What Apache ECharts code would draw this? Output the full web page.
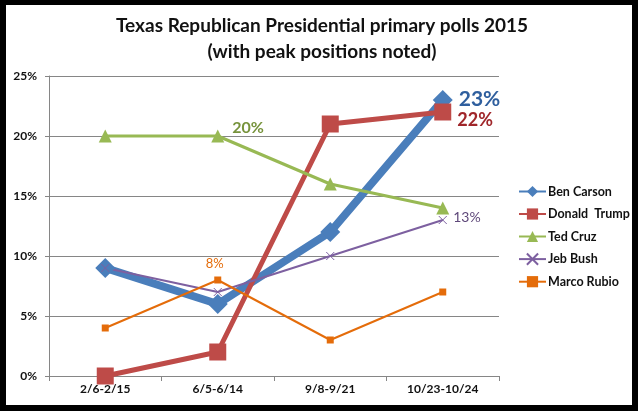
<!DOCTYPE html>
<html>
<head>
<meta charset="utf-8">
<script src="https://cdn.jsdelivr.net/npm/echarts@6/dist/echarts.min.js"></script>
<style>
  html, body { margin: 0; padding: 0; background: #fff; }
  #main { width: 640px; height: 416px; }
</style>
</head>
<body>
<div id="main"></div>
<script>
// poll dates and results (percent)
var periods = ['2/6-2/15', '6/5-6/14', '9/8-9/21', '10/23-10/24'];
var carson = [9, 6, 12, 23];
var trump = [0, 2, 21, 22];
var cruz = [20, 20, 16, 14];
var bush = [9, 7, 10, 13];
var rubio = [4, 8, 3, 7];
var yTicks = [0, 5, 10, 15, 20, 25];

var fontName = 'Lato, "Open Sans", sans-serif';

// label only one point of a series (its peak)
function peakLabel(arr, idx, opts) {
  return arr.map(function (v, i) {
    if (i !== idx) return v;
    return { value: v, label: Object.assign({ show: true, formatter: v + '%' }, opts) };
  });
}

var chart = echarts.init(document.getElementById('main'));

var option = {
  animation: false,
  title: {
    text: 'Texas Republican Presidential primary polls 2015\n(with peak positions noted)',
    left: 317,
    top: 8,
    textAlign: 'center',
    textStyle: { fontFamily: fontName, fontSize: 19, fontWeight: 'bold', color: '#111', lineHeight: 26 }
  },
  graphic: [{
    type: 'rect',
    shape: { x: 3, y: 2, width: 632, height: 406 },
    style: { fill: 'none', stroke: '#000', lineWidth: 6 },
    z: 100
  }],
  legend: {
    orient: 'vertical',
    left: 513,
    top: 180,
    itemGap: 9.5,
    itemWidth: 27,
    itemHeight: 14,
    textStyle: { fontFamily: fontName, fontSize: 12.5, fontWeight: 'bold', color: '#111', padding: [0, 0, 0, -3] },
    data: ['Ben Carson', 'Donald  Trump', 'Ted Cruz', 'Jeb Bush', 'Marco Rubio']
  },
  grid: { left: 49, right: 141, top: 76, bottom: 40 },
  xAxis: {
    type: 'category',
    data: periods,
    axisLine: { lineStyle: { color: '#868686' } },
    axisTick: { show: true, length: 5, lineStyle: { color: '#868686' } },
    axisLabel: { fontFamily: fontName, fontSize: 12, fontWeight: 'bold', color: '#111', margin: 7 }
  },
  yAxis: {
    type: 'value',
    min: yTicks[0],
    max: yTicks[yTicks.length - 1],
    interval: 5,
    axisLine: { show: true, lineStyle: { color: '#868686' } },
    axisTick: { show: true, length: 4, lineStyle: { color: '#868686' } },
    splitLine: { lineStyle: { color: '#868686' } },
    axisLabel: { fontFamily: fontName, fontSize: 12, fontWeight: 'bold', color: '#111', margin: 12, formatter: '{value}%' }
  },
  series: [
    {
      name: 'Ben Carson', type: 'line',
      data: peakLabel(carson, 3, { position: 'right', distance: 6, offset: [0, -1], fontFamily: fontName, fontSize: 21, fontWeight: 'bold', color: '#2F5F9E' }),
      symbol: 'diamond', symbolSize: 20,
      lineStyle: { width: 8, color: '#4A7EBB' },
      itemStyle: { color: '#4A7EBB' }
    },
    {
      name: 'Donald  Trump', type: 'line',
      data: peakLabel(trump, 3, { position: 'right', distance: 6, offset: [0, 8], fontFamily: fontName, fontSize: 18, fontWeight: 'bold', color: '#A0262A' }),
      symbol: 'rect', symbolSize: 17,
      lineStyle: { width: 5, color: '#BE4B48' },
      itemStyle: { color: '#BE4B48' }
    },
    {
      name: 'Ted Cruz', type: 'line',
      data: peakLabel(cruz, 1, { position: 'right', distance: 8, offset: [0, -8], fontFamily: fontName, fontSize: 16, fontWeight: 'bold', color: '#77933C' }),
      symbol: 'triangle', symbolSize: 13,
      lineStyle: { width: 3, color: '#98B954' },
      itemStyle: { color: '#98B954' }
    },
    {
      name: 'Jeb Bush', type: 'line',
      data: peakLabel(bush, 3, { position: 'right', distance: 6, offset: [0, -3], fontFamily: fontName, fontSize: 14, color: '#5F497A' }),
      symbol: 'path://M0,0 L10,10 M10,0 L0,10', symbolSize: 8,
      lineStyle: { width: 2, color: '#7D60A0' },
      itemStyle: { color: '#7D60A0', borderColor: '#7D60A0', borderWidth: 1 }
    },
    {
      name: 'Marco Rubio', type: 'line',
      data: peakLabel(rubio, 1, { position: 'top', distance: 6, offset: [-3, 0], fontFamily: fontName, fontSize: 13, color: '#E46C0A' }),
      symbol: 'rect', symbolSize: 7,
      lineStyle: { width: 2, color: '#E46C0A' },
      itemStyle: { color: '#E46C0A' }
    }
  ]
};

chart.setOption(option);
</script>
</body>
</html>
